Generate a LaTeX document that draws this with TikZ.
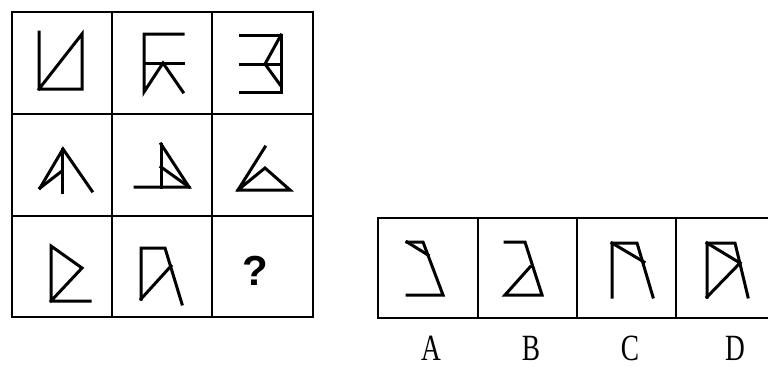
\documentclass[tikz,border=0pt]{standalone}
\usepackage{fontspec}
\setmainfont{Liberation Serif}
\newfontfamily\qfont{Liberation Sans}
\begin{document}
\begin{tikzpicture}[x=1pt,y=-1pt,
  gridline/.style={line width=2.5pt,line cap=rect},
  fig/.style={line width=3pt,line join=miter,line cap=rect},
  optlabel/.style={font=\fontsize{37}{37}\selectfont,inner sep=0pt,anchor=base,xscale=0.74,transform shape}]
\useasboundingbox (0,0) rectangle (768,367);
\fill[white] (0,0) rectangle (768,367);
% main grid
\draw[gridline] (12,12) rectangle (313,317);
\draw[gridline] (112,12) -- (112,317) (212,12) -- (212,317);
\draw[gridline] (12,114) -- (313,114) (12,216) -- (313,216);
% options box
\draw[gridline] (378,218) -- (767,218) (378,318) -- (767,318) (378,218) -- (378,318);
\draw[gridline] (478,218) -- (478,318) (577,218) -- (577,318) (676,218) -- (676,318);
% row 1
\draw[fig] (39,32) -- (39,89) -- (82,89) -- (82,34) -- (39,89);
\draw[fig] (183,34) -- (144,34) -- (144,92) -- (163,63) -- (183,92);
\draw[fig] (144,63) -- (183,63);
\draw[fig] (240,35) -- (281,35) -- (281,92) -- (240,92);
\draw[fig] (240,64) -- (281,64);
\draw[fig] (281,35) -- (265,64) -- (281,86);
% row 2
\draw[fig] (40,188) -- (63,149) -- (92,191);
\draw[fig] (62,149) -- (62,192);
\draw[fig] (40,188) -- (62,171);
\draw[fig] (161,144) -- (161,187);
\draw[fig] (135,187) -- (189,187) -- (161,144);
\draw[fig] (161,167) -- (189,187);
\draw[fig] (265,147) -- (238,190) -- (290,190) -- (265,168) -- (238,190);
% row 3
\draw[fig] (90,301) -- (51,301) -- (51,246) -- (82,268) -- (51,301);
\draw[fig] (141,299) -- (141,248) -- (165,248) -- (182,304);
\draw[fig] (141,299) -- (171,266);
\node[font=\qfont\bfseries\fontsize{42}{42}\selectfont,inner sep=0pt] (q) at (255,271) {?};
% options
\draw[fig] (407,242) -- (423,242) -- (443,295) -- (407,295);
\draw[fig] (407,242) -- (428,255);
\draw[fig] (505,242) -- (525,242) -- (542,295) -- (505,295) -- (530,267);
\draw[fig] (612,297) -- (612,243) -- (637,243) -- (653,297);
\draw[fig] (612,243) -- (644,262);
\draw[fig] (707,297) -- (707,243) -- (735,243) -- (748,297);
\draw[fig] (707,243) -- (740,263) -- (707,297);
% labels
\node[optlabel] (la) at (431,360) {A};
\node[optlabel] (lb) at (531,360) {B};
\node[optlabel] (lc) at (630,360) {C};
\node[optlabel] (ld) at (735,360) {D};
\end{tikzpicture}
\end{document}
